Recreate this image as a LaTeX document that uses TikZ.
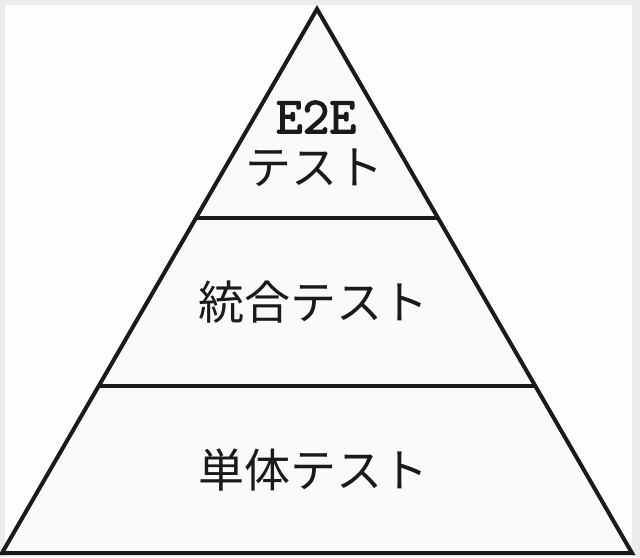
\documentclass[tikz,border=0pt]{standalone}
\usepackage{fontspec}
\newfontfamily\jpfont{Noto Sans CJK JP}
\newfontfamily\eefont{Latin Modern Mono}[FakeBold=2.5]
\definecolor{framegray}{RGB}{236,236,236}
\definecolor{pagewhite}{RGB}{253,253,253}
\definecolor{pyrfill}{RGB}{250,250,248}
\definecolor{ink}{RGB}{26,26,26}
\tikzset{
  pyr/.style={draw=ink, line width=4pt, line join=miter, fill=pyrfill},
  tierline/.style={draw=ink, line width=4pt},
  jplabel/.style={font=\jpfont\fontsize{46}{52}\selectfont, text=ink, inner sep=0pt},
  e2elabel/.style={font=\eefont\fontsize{52}{56}\selectfont, text=ink, inner sep=0pt}
}
\begin{document}
\begin{tikzpicture}[x=1pt,y=-1pt]
\useasboundingbox (0,0) rectangle (640,557);
\fill[framegray] (0,0) rectangle (640,557);
\fill[pagewhite] (5,5) rectangle (632,557);
\coordinate (apex) at (317,9);
\coordinate (bl) at (2,553);
\coordinate (br) at (632,553);
\draw[pyr] (apex) -- (bl) -- (br) -- cycle;
\path (apex) -- (bl) coordinate[pos=0.385] (l1) coordinate[pos=0.693] (l2);
\path (apex) -- (br) coordinate[pos=0.385] (r1) coordinate[pos=0.693] (r2);
\draw[tierline] (l1) -- (r1);
\draw[tierline] (l2) -- (r2);
\node[e2elabel] (e2e) at (316,117) {E2E};
\node[jplabel] (e2etest) at (314,168) {テスト};
\node[jplabel] (integ) at (313,302) {統合テスト};
\node[jplabel] (unit) at (313,470) {単体テスト};
\end{tikzpicture}
\end{document}
